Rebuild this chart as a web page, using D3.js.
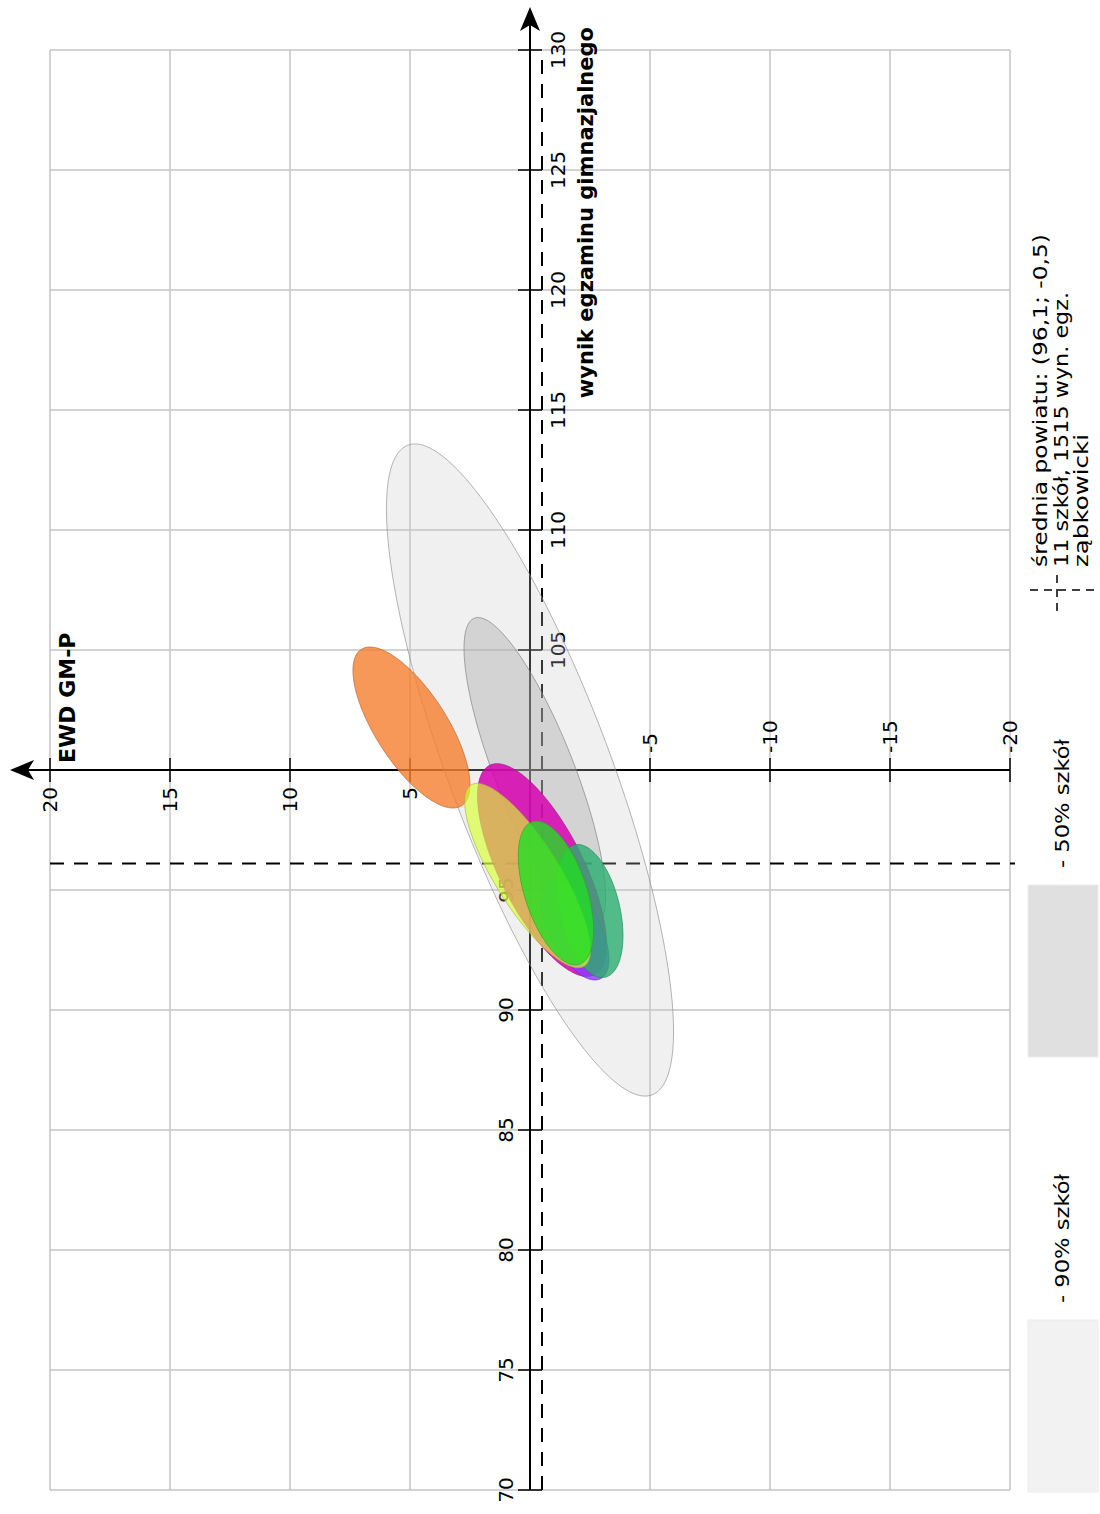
<!DOCTYPE html>
<html><head><meta charset="utf-8">
<script src="https://cdn.jsdelivr.net/npm/d3@7"></script>
<style>body{margin:0;background:#fff}svg{display:block}</style>
</head><body>
<svg id="chart" width="1100" height="1514"></svg>
<script>
// ---------- data ----------
const wynikGrid = [70,75,80,85,90,95,100,105,110,115,120,125,130];
const ewdGrid = [20,15,10,5,0,-5,-10,-15,-20];
const wynikTickLabels = ["70","75","80","85","90","95","105","110","115","120","125","130"];
const ewdTickLabels = ["20","15","10","5","-5","-10","-15","-20"];
const meanWynik = 96.1;
const meanEwd = -0.5;
// ellipses (wynik = exam score, ewd = value added)
const ellNames = ["90% szkół","50% szkół","szkoła A","szkoła B","szkoła C","szkoła D","szkoła E","szkoła F"];
const ellCenterWynik = [100.0, 99.9, 101.77, 95.83, 93.33, 94.125, 95.6, 94.875];
const ellCenterEwd   = [0.0, -0.2, 4.94, -0.5, -1.875, -2.5, 0.1, -1.08];
const ellSemiMajor   = [14.46, 6.9, 3.87, 4.88, 2.29, 2.83, 4.45, 3.125];
const ellSemiMinor   = [3.36, 1.65, 1.49, 1.75, 1.04, 1.25, 1.35, 1.29];
const ellAngleDeg    = [20.6, 21.4, 32.7, 26.6, 28.0, 13.0, 32.0, 18.3];
const legendLines = ["średnia powiatu: (96,1; -0,5)","11 szkół, 1515 wyn. egz.","ząbkowicki"];
const legendBoxLabels = ["- 90% szkół","- 50% szkół"];
const xTitle = "wynik egzaminu gimnazjalnego";
const yTitle = "EWD GM-P";

// ---------- styles ----------
const ellFill   = ["#c8c8c8","#a8a8a8","#f57d2e","#d600b0","#8c3cff","#2aae70","#d8ff30","#22dd22"];
const ellOpac   = [0.27, 0.4, 0.8, 0.85, 0.8, 0.8, 0.65, 0.8];
const ellStroke = ["#8a8a8a","#7a7a7a","#b0602a","#a0108a","#5a30b0","#208850","#a8b030","#30a030"];

const svg = d3.select("#chart");
const W = 1100, H = 1514;
// chart drawn in its original orientation and rotated 90° counter-clockwise
const g = svg.append("g").attr("transform", `translate(0,${H}) rotate(-90)`);

const x = d3.scaleLinear().domain([70,130]).range([24,1464]);   // wynik
const y = d3.scaleLinear().domain([20,-20]).range([50,1010]);   // EWD
const font = "'DejaVu Sans', sans-serif";

// grid
g.append("g").selectAll("line").data(wynikGrid).join("line")
  .attr("x1", d=>x(d)).attr("x2", d=>x(d)).attr("y1", y(20)).attr("y2", y(-20))
  .attr("stroke", "#c4c4c4").attr("stroke-width", 1.5);
g.append("g").selectAll("line").data(ewdGrid).join("line")
  .attr("x1", x(70)).attr("x2", x(130)).attr("y1", d=>y(d)).attr("y2", d=>y(d))
  .attr("stroke", "#c4c4c4").attr("stroke-width", 1.5);

// mean dashed lines
g.append("line").attr("x1", x(70)).attr("x2", x(130)).attr("y1", y(meanEwd)).attr("y2", y(meanEwd))
  .attr("stroke", "#000").attr("stroke-width", 2).attr("stroke-dasharray", "14,10");
g.append("line").attr("x1", x(meanWynik)).attr("x2", x(meanWynik)).attr("y1", y(20)).attr("y2", y(-20)+5)
  .attr("stroke", "#000").attr("stroke-width", 2).attr("stroke-dasharray", "14,10");

// axes
const axX = y(0), axY = x(100);
g.append("line").attr("x1", x(70)).attr("x2", x(130)+40).attr("y1", axX).attr("y2", axX)
  .attr("stroke", "#000").attr("stroke-width", 2);
g.append("line").attr("x1", axY).attr("x2", axY).attr("y1", y(-20)).attr("y2", y(20)-38)
  .attr("stroke", "#000").attr("stroke-width", 2);
const tipX = x(130)+43, tipY = y(20)-40;
g.append("path").attr("d", `M${tipX},${axX} L${tipX-24},${axX-10} L${tipX-18},${axX} L${tipX-24},${axX+10} Z`).attr("fill","#000");
g.append("path").attr("d", `M${axY},${tipY} L${axY-10},${tipY+24} L${axY},${tipY+18} L${axY+10},${tipY+24} Z`).attr("fill","#000");

// wynik ticks + labels
const wTickVals = wynikTickLabels.map(Number);
g.append("g").selectAll("line").data(wTickVals).join("line")
  .attr("x1", d=>x(d)).attr("x2", d=>x(d)).attr("y1", axX-12).attr("y2", axX+12)
  .attr("stroke","#000").attr("stroke-width",1.5);
g.append("g").selectAll("text").data(wynikTickLabels).join("text")
  .attr("x", d=>x(+d)).attr("y", d=> +d > 100 ? axX+35 : axX-17)
  .attr("text-anchor","middle").attr("font-family", font).attr("font-size", 20).attr("fill","#000")
  .text(d=>d);
// ewd ticks + labels
const eTickVals = ewdTickLabels.map(Number);
g.append("g").selectAll("line").data(eTickVals).join("line")
  .attr("x1", axY-12).attr("x2", axY+12).attr("y1", d=>y(d)).attr("y2", d=>y(d))
  .attr("stroke","#000").attr("stroke-width",1.5);
g.append("g").selectAll("text").data(ewdTickLabels).join("text")
  .attr("x", d=> +d > 0 ? axY-17 : axY+17).attr("y", d=>y(+d)).attr("dy","0.35em")
  .attr("text-anchor", d=> +d > 0 ? "end" : "start")
  .attr("font-family", font).attr("font-size", 20).attr("fill","#000").text(d=>d);

// ellipses (on top, translucent)
const line = d3.line();
const ells = ellNames.map((n,i)=>{
  const phi = ellAngleDeg[i]*Math.PI/180, a = ellSemiMajor[i], b = ellSemiMinor[i];
  const pts = d3.range(0, 360, 2).map(t=>{
    const r = t*Math.PI/180, u = a*Math.cos(r), v = b*Math.sin(r);
    const w = ellCenterWynik[i] + u*Math.cos(phi) - v*Math.sin(phi);
    const e = ellCenterEwd[i] + u*Math.sin(phi) + v*Math.cos(phi);
    return [x(w), y(e)];
  });
  return {i, d: line(pts) + "Z"};
});
g.append("g").selectAll("path").data(ells).join("path")
  .attr("d", d=>d.d).attr("fill", d=>ellFill[d.i]).attr("fill-opacity", d=>ellOpac[d.i])
  .attr("stroke", d=>ellStroke[d.i]).attr("stroke-width", 0.8).attr("stroke-opacity", 0.8);

// titles
g.append("text").attr("x", x(130)+23).attr("y", axX+63).attr("text-anchor","end")
  .attr("font-family", font).attr("font-weight","bold").attr("font-size", 21).text(xTitle);
g.append("text").attr("x", axY+7).attr("y", y(20)+25).attr("text-anchor","start")
  .attr("font-family", font).attr("font-weight","bold").attr("font-size", 22).text(yTitle);

// legend
const lg = g.append("g").attr("font-family", font).attr("font-size", 20);
const boxX0 = [22, 457], boxFill = ["#f2f2f2","#e0e0e0"];
legendBoxLabels.forEach((lab,i)=>{
  lg.append("rect").attr("x", boxX0[i]).attr("y", 1028).attr("width", 172).attr("height", 70)
    .attr("fill", boxFill[i]).attr("stroke","#ececec").attr("stroke-width",1);
  lg.append("text").attr("x", boxX0[i]+189).attr("y", 1069)
    .attr("textLength", 129).attr("lengthAdjust","spacingAndGlyphs").text(lab);
});
// cross symbol
lg.append("line").attr("x1", 903).attr("x2", 945).attr("y1", 1057).attr("y2", 1057)
  .attr("stroke","#000").attr("stroke-width",1.5).attr("stroke-dasharray","8,6");
lg.append("line").attr("x1", 924).attr("x2", 924).attr("y1", 1030).attr("y2", 1095)
  .attr("stroke","#000").attr("stroke-width",1.5).attr("stroke-dasharray","8,6");
const legendLen = [333, 275, 133];
legendLines.forEach((t,i)=>{
  lg.append("text").attr("x", 947).attr("y", 1047 + i*20.5).attr("font-size", 19)
    .attr("textLength", legendLen[i]).attr("lengthAdjust","spacingAndGlyphs").text(t);
});
</script>
</body></html>
